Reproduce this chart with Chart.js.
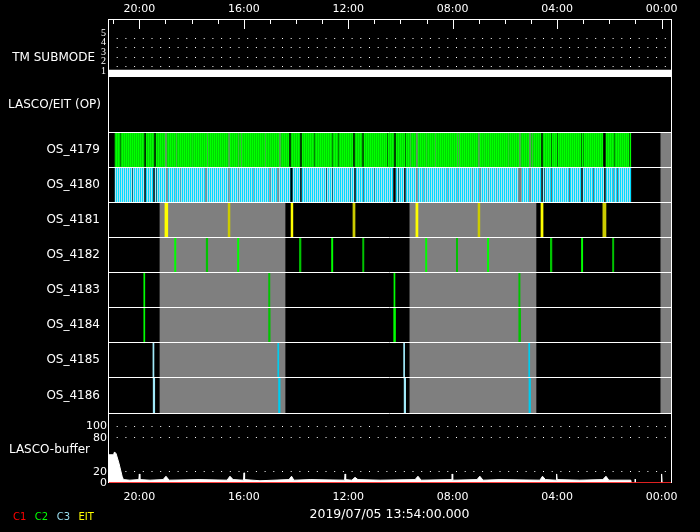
<!DOCTYPE html>
<html>
<head>
<meta charset="utf-8">
<title>LASCO/EIT OS timeline</title>
<script src="https://cdn.jsdelivr.net/npm/chart.js@4.4.1/dist/chart.umd.min.js"></script>
<style>
  html, body { margin: 0; padding: 0; background: #000; }
  #wrap { position: relative; width: 700px; height: 532px; }
</style>
</head>
<body>
<div id="wrap"><canvas id="chart"></canvas></div>
<script>
// time axis (hours), plotted right-to-left
const timeMin = -0.36;
const timeMax = 21.2;
const timeTicks = [20, 16, 12, 8, 4, 0];
const timeLabels = ['20:00', '16:00', '12:00', '08:00', '04:00', '00:00'];
const hourTicks = [21, 20, 19, 18, 17, 16, 15, 14, 13, 12, 11, 10, 9, 8, 7, 6, 5, 4, 3, 2, 1, 0];
const dateLabel = '2019/07/05 13:54:00.000';

// TM submode panel
const tmTicks = [1, 2, 3, 4, 5];
const tmGridLines = [1.5, 2.5, 3.5, 4.5];
const tmTimes = [21.2, -0.36];
const tmValues = [1, 1];

// OS rows
const osRows = ['OS_4179', 'OS_4180', 'OS_4181', 'OS_4182', 'OS_4183', 'OS_4184', 'OS_4185', 'OS_4186'];

const c2Spans4179 = [[20.93,20.74],[20.70,19.82],[19.74,19.44],[19.36,19.02],[18.94,18.60],[18.56,17.98],[17.96,17.41],
  [17.37,17.03],[17.01,16.60],[16.53,16.22],[16.18,16.11],[16.07,15.19],[15.15,15.00],[14.98,14.65],[14.58,14.27],
  [14.19,13.85],[13.77,13.31],[13.27,12.62],[12.58,12.39],[12.35,11.82],[11.74,11.47],[11.40,10.52],[10.48,10.25],
  [10.17,9.83],[9.79,9.64],[9.60,9.41],[9.33,9.02],[8.99,8.68],[8.64,7.84],[7.80,7.76],[7.72,7.03],[6.96,6.80],
  [6.78,6.61],[6.59,5.88],[5.85,5.46],[5.39,5.08],[5.00,4.97],[4.93,4.62],[4.54,4.24],[4.20,4.01],[3.97,3.09],
  [3.05,3.01],[2.98,2.25],[2.13,1.83],[1.79,1.25],[1.21,1.18]];
const gray4179 = [[19.02,18.94],[18.60,18.56],[17.98,17.96],[17.41,17.37],[17.03,17.01],[16.60,16.53],[16.22,16.18],
  [16.11,16.07],[15.19,15.15],[15.00,14.98],[14.65,14.58],[9.64,9.60],[9.41,9.33],[9.02,8.99],[8.68,8.64],[7.84,7.80],
  [7.76,7.72],[7.03,6.96],[6.80,6.78],[6.61,6.59],[5.88,5.85],[5.46,5.39],[5.08,5.00],[4.97,4.93]];

const c3Spans4180 = [[20.93,20.28],[20.24,19.82],[19.74,19.48],[19.40,19.36],[19.32,18.98],[18.90,18.63],[18.60,18.44],
  [18.40,17.49],[17.41,16.60],[16.53,16.22],[16.18,15.65],[15.61,15.03],[14.96,14.73],[14.65,14.23],[14.12,13.85],
  [13.77,12.85],[12.81,12.62],[12.58,11.93],[11.90,11.78],[11.70,11.44],[11.40,11.01],[10.98,10.29],[10.17,10.10],
  [10.06,9.87],[9.79,9.41],[9.33,9.14],[9.10,9.02],[8.99,8.22],[8.18,7.84],[7.80,7.26],[7.22,6.99],[6.92,6.65],
  [6.61,6.34],[6.31,5.50],[5.35,5.08],[5.00,4.62],[4.54,4.51],[4.47,4.24],[4.20,3.55],[3.51,3.09],[3.01,2.63],
  [2.59,2.21],[2.13,1.86],[1.83,1.71],[1.67,1.18]];
const gray4180 = [[18.98,18.90],[18.63,18.60],[18.44,18.40],[17.49,17.41],[16.60,16.53],[16.22,16.18],[15.65,15.61],
  [15.03,14.96],[14.73,14.65],[9.41,9.33],[9.14,9.10],[9.02,8.99],[8.22,8.18],[7.84,7.80],[7.26,7.22],[6.99,6.92],
  [6.65,6.61],[6.34,6.31],[5.50,5.35],[5.08,5.00]];

const eit4181 = [[19.02,18.91],[16.60,16.53],[14.19,14.12],[11.82,11.74],[9.41,9.33],[7.03,6.96],[4.62,4.54],[2.25,2.13]];
const c2Lines4182 = [[18.65,18.60],[17.44,17.38],[16.24,16.19],[13.87,13.81],[12.64,12.59],[11.45,11.40],
  [9.04,8.99],[7.86,7.81],[6.67,6.62],[4.26,4.20],[3.07,3.02],[1.88,1.83]];
const c2Lines4183 = [[19.83,19.79],[15.05,15.00],[10.25,10.21],[5.47,5.42]];
const c2Lines4184 = [[19.83,19.79],[15.05,14.99],[10.26,10.19],[5.47,5.40]];
const c3Lines4185 = [[19.48,19.44],[14.70,14.66],[9.88,9.84],[5.09,5.05]];
const c3Lines4186 = [[19.47,19.41],[14.67,14.61],[9.86,9.80],[5.08,5.02]];

const grayBlocks = [[19.21,14.42],[9.64,4.81]];   // rows OS_4181..OS_4186
const grayTail = [[0.03,-0.36]];                   // all OS rows

// LASCO buffer panel
const bufTicks = [0, 20, 80, 100];
const bufTimes = [21.20,20.99,20.95,20.89,20.78,20.66,20.61,20.36,20.02,20.00,19.98,19.59,19.09,18.98,18.86,17.68,
  16.64,16.53,16.41,16.01,15.99,15.97,15.38,14.27,14.17,14.08,13.46,12.14,12.12,12.10,11.86,11.74,11.63,10.78,
  9.44,9.33,9.21,8.03,8.02,8.00,7.07,6.96,6.84,6.19,4.66,4.56,4.45,4.04,4.02,4.00,3.13,2.25,2.13,2.02,1.18,1.16,
  1.02,1.01,1.00,0.02,0.00,-0.02,-0.36];
const bufValues = [50,50,55,52,35,12,6,5,6,16,6,5,6,12,5,6,5,12,6,5,18,6,4,6,12,5,6,5,16,6,5,10,6,5,6,12,5,6,16,5,
  6,12,5,6,5,12,6,5,16,6,5,6,12,5,5,0,0,7,0,0,16,0,0];
const c1Times = [21.2, -0.36];
const c1Values = [0, 0];

const legendNames = ['C1', 'C2', 'C3', 'EIT'];
const legendColors = ['#ff0000', '#00ff00', '#99ddee', '#ffff00'];

const white = '#ffffff';
const gray = '#7f7f7f';
const dots = [1, 7.7];

function stripes(a, b) {
  const cv = document.createElement('canvas');
  cv.width = 2; cv.height = 1;
  const g = cv.getContext('2d');
  g.fillStyle = a; g.fillRect(0, 0, 1, 1);
  g.fillStyle = b; g.fillRect(1, 0, 1, 1);
  return g.createPattern(cv, 'repeat');
}

function rowBars(row, spans) {
  return spans.map(([a, b]) => ({ y: row, x: [a, b] }));
}

function points(xs, ys) {
  return xs.map((t, i) => ({ x: t, y: ys[i] }));
}

const grayData = [].concat(
  rowBars('OS_4179', gray4179),
  rowBars('OS_4180', gray4180),
  ...osRows.slice(2).map(r => rowBars(r, grayBlocks)),
  ...osRows.map(r => rowBars(r, grayTail))
);

const barBase = {
  type: 'bar', indexAxis: 'y', xAxisID: 'x', yAxisID: 'yOS',
  grouped: false, barPercentage: 1, categoryPercentage: 1, borderWidth: 0, order: 1
};
const alt = (c1, c2) => (ctx) => (ctx.dataIndex % 2 === 0 ? c1 : c2);

const datasets = [
  { ...barBase, label: 'gray', data: grayData, backgroundColor: gray, order: 3 },
  { ...barBase, label: 'OS_4179', data: rowBars('OS_4179', c2Spans4179), backgroundColor: stripes('#00ff00', '#00d800') },
  { ...barBase, label: 'OS_4180', data: rowBars('OS_4180', c3Spans4180), backgroundColor: stripes('#00dcff', '#b0e2ee') },
  { ...barBase, label: 'OS_4181', data: rowBars('OS_4181', eit4181), backgroundColor: alt('#ffff00', '#cccc00') },
  { ...barBase, label: 'OS_4182', data: rowBars('OS_4182', c2Lines4182), backgroundColor: alt('#00ff00', '#00c400') },
  { ...barBase, label: 'OS_4183', data: rowBars('OS_4183', c2Lines4183), backgroundColor: alt('#00ff00', '#00c400') },
  { ...barBase, label: 'OS_4184', data: rowBars('OS_4184', c2Lines4184), backgroundColor: alt('#00ff00', '#00c400') },
  { ...barBase, label: 'OS_4185', data: rowBars('OS_4185', c3Lines4185), backgroundColor: alt('#a0e8f8', '#00ccee') },
  { ...barBase, label: 'OS_4186', data: rowBars('OS_4186', c3Lines4186), backgroundColor: alt('#a0e8f8', '#00ccee') },
  {
    type: 'line', label: 'TM submode', xAxisID: 'x', yAxisID: 'yTM', data: points(tmTimes, tmValues),
    borderColor: white, backgroundColor: white, borderWidth: 3, fill: 'start', pointRadius: 0, order: 1
  },
  {
    type: 'line', label: 'buffer', xAxisID: 'x', yAxisID: 'yBuf', data: points(bufTimes, bufValues),
    borderColor: white, backgroundColor: white, borderWidth: 1, fill: 'origin', pointRadius: 0, tension: 0, order: 2
  },
  {
    type: 'line', label: 'C1', xAxisID: 'x', yAxisID: 'yBuf', data: points(c1Times, c1Values),
    borderColor: '#ff0000', borderWidth: 1.5, fill: false, pointRadius: 0, order: 1
  }
];

const setTicks = (values) => (scale) => { scale.ticks = values.map(v => ({ value: v })); };
const leftWidth = (scale) => { scale.width = 108; };
const timeLabel = (v) => timeLabels[timeTicks.indexOf(v)] || '';

// white frame round the plot area, inward hour ticks, free text (panel names, colour key)
const decor = {
  id: 'decor',
  afterDraw(chart) {
    const { ctx, chartArea: a, scales } = chart;
    ctx.save();
    ctx.setLineDash([]);
    ctx.fillStyle = white;
    const top = Math.round(a.top);
    const left = Math.round(a.left);
    const right = Math.round(a.right);
    const bottom = Math.round(a.bottom);
    ctx.fillRect(left, top, 1, bottom - top);
    ctx.fillRect(right, top, 1, bottom - top);
    ctx.fillRect(left, top, right - left + 1, 1);
    hourTicks.forEach((h) => {
      const px = Math.round(scales.x.getPixelForValue(h));
      ctx.fillRect(px, top, 1, timeTicks.includes(h) ? 10 : 5);
    });

    ctx.font = '12px "DejaVu Sans"';
    ctx.textAlign = 'right';
    ctx.textBaseline = 'middle';
    ctx.fillText('TM SUBMODE', 95, scales.yTM.getPixelForValue(2.37));
    ctx.fillText('LASCO-buffer', 90, scales.yBuf.getPixelForValue(59));
    ctx.font = '10px "DejaVu Sans"';
    ctx.textAlign = 'left';
    let x = 13;
    legendNames.forEach((name, i) => {
      ctx.fillStyle = legendColors[i];
      ctx.fillText(name, x, 517);
      x += ctx.measureText(name).width + 8.5;
    });
    ctx.restore();
  }
};

Chart.defaults.font.family = '"DejaVu Sans"';
Chart.defaults.color = white;

new Chart(document.getElementById('chart'), {
  type: 'line',
  data: { datasets },
  plugins: [decor],
  options: {
    responsive: true,
    maintainAspectRatio: false,
    animation: false,
    events: [],
    layout: { padding: { left: 0, right: 29, top: 0, bottom: 0 } },
    plugins: { legend: { display: false }, tooltip: { enabled: false } },
    scales: {
      x: {
        type: 'linear', position: 'top', reverse: true, min: timeMin, max: timeMax, offset: false,
        afterBuildTicks: setTicks(timeTicks),
        afterFit: (s) => { s.height = 19; },
        ticks: { color: white, padding: 3, maxRotation: 0, autoSkip: false, font: { size: 11 }, callback: timeLabel },
        grid: { display: false, drawTicks: false, offset: false },
        border: { display: false }
      },
      x2: {
        type: 'linear', axis: 'x', position: 'bottom', reverse: true, min: timeMin, max: timeMax, offset: false,
        afterBuildTicks: setTicks(timeTicks),
        afterFit: (s) => { s.height = 49; },
        ticks: { color: white, padding: 8, maxRotation: 0, autoSkip: false, font: { size: 11 }, callback: timeLabel },
        grid: { display: false, drawTicks: false },
        border: { display: false },
        title: { display: true, text: dateLabel, color: white, font: { size: 12.5 }, padding: { top: 0, bottom: 9.5 } }
      },
      yTM: {
        type: 'linear', position: 'left', stack: 'panels', stackWeight: 58, weight: 4, min: 0.4, max: 6.5,
        afterBuildTicks: setTicks(tmTicks.concat(tmGridLines).sort((a, b) => a - b)),
        afterFit: leftWidth,
        ticks: {
          color: white, padding: 2, autoSkip: false, font: { family: '"Liberation Sans Narrow"', size: 10 },
          callback: (v) => (tmTicks.includes(v) ? String(v) : '')
        },
        grid: { drawTicks: false, color: (c) => (tmGridLines.includes(c.tick && c.tick.value) ? white : 'rgba(0,0,0,0)') },
        border: { display: false, dash: dots }
      },
      yOP: {
        type: 'linear', position: 'left', stack: 'panels', stackWeight: 55, weight: 3, min: 0, max: 1,
        afterBuildTicks: setTicks([0.5]),
        afterFit: leftWidth,
        ticks: { color: white, padding: 7, font: { size: 12 }, callback: () => 'LASCO/EIT (OP)' },
        grid: { display: false, drawTicks: false },
        border: { display: false }
      },
      yOS: {
        type: 'category', position: 'left', stack: 'panels', stackWeight: 281, weight: 2, labels: osRows, offset: true,
        afterFit: leftWidth,
        ticks: { color: white, padding: 8, autoSkip: false, font: { size: 12 } },
        grid: { offset: true, drawTicks: false, color: white, lineWidth: 1, z: 1 },
        border: { display: false }
      },
      yBuf: {
        type: 'linear', position: 'left', stack: 'panels', stackWeight: 70, weight: 1, min: 0, max: 124,
        afterBuildTicks: setTicks(bufTicks),
        afterFit: leftWidth,
        ticks: { color: white, padding: 1, autoSkip: false, font: { size: 11 } },
        grid: { drawTicks: false, color: (c) => (c.tick && c.tick.value > 0 ? white : 'rgba(0,0,0,0)') },
        border: { display: false, dash: dots }
      }
    }
  }
});
</script>
</body>
</html>
